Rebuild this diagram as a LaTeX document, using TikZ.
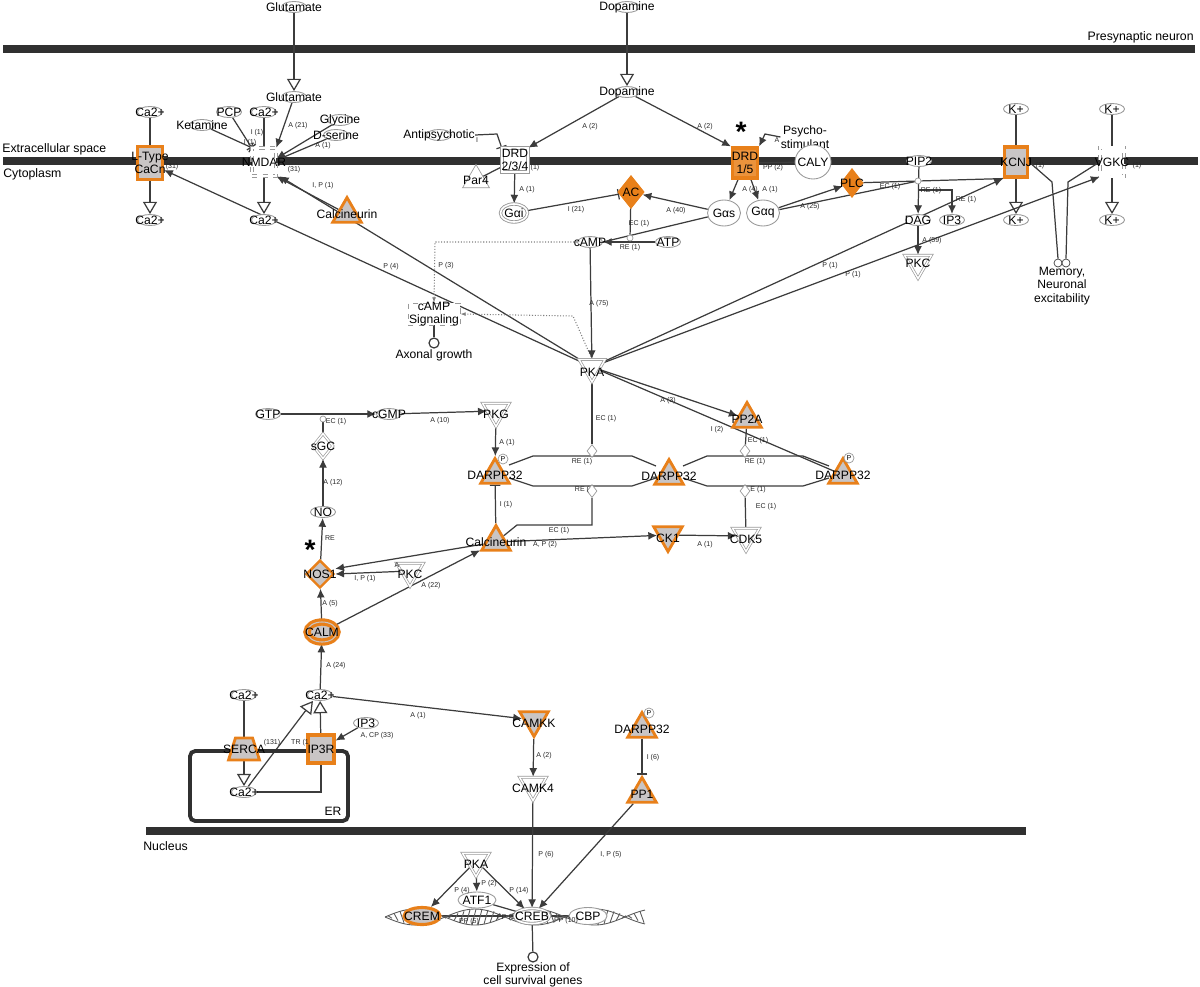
\documentclass[tikz,border=0pt]{standalone}
\usepackage{fontspec}
\setmainfont{Liberation Sans}
\usetikzlibrary{shapes.geometric, arrows.meta, calc}
\definecolor{orng}{HTML}{E8801A}
\definecolor{gfill}{HTML}{C9C5C5}
\definecolor{ln}{HTML}{3C3C3C}
\definecolor{mem}{HTML}{303030}
\definecolor{ol}{HTML}{9A9A9A}
\pgfdeclarelayer{bg}\pgfdeclarelayer{edges}\pgfsetlayers{bg,edges,main}
\tikzset{
 txt/.style={font=\fontsize{6.9}{7.6}\selectfont, align=center, inner sep=0pt},
 every label/.style={txt},
 lab/.style={font=\fontsize{4}{4.5}\selectfont, inner sep=0pt, text=black!85},
 memtxt/.style={font=\fontsize{7}{8}\selectfont, inner sep=0pt},
 chem/.style={ellipse, draw=ol, fill=white, line width=0.5pt, minimum width=0.5cm, minimum height=0.22cm, inner sep=0pt},
 bell/.style={ellipse, draw=ol, fill=white, line width=0.5pt, inner sep=0pt},
 dbell/.style={bell, double=white, double distance=0.9pt},
 oell/.style={ellipse, draw=orng, line width=1.8pt, fill=gfill, inner sep=0pt},
 osq/.style={rectangle, draw=orng, line width=1.8pt, fill=gfill, inner sep=0pt},
 wsq/.style={rectangle, draw=ol, fill=white, double=white, double distance=1.3pt, inner sep=0pt},
 otri/.style={regular polygon, regular polygon sides=3, draw=orng, line width=1.6pt, fill=gfill, minimum size=0.66cm, inner sep=0pt},
 oitri/.style={otri, shape border rotate=180},
 witri/.style={regular polygon, regular polygon sides=3, shape border rotate=180, draw=ol, fill=white, double=white, double distance=0.8pt, minimum size=0.62cm, inner sep=0pt},
 wtri/.style={regular polygon, regular polygon sides=3, draw=ol, fill=white, minimum size=0.62cm, inner sep=0pt},
 odia/.style={diamond, draw=orng, line width=1.4pt, fill=orng, inner sep=0pt},
 jc/.style={circle, draw=ol, fill=white, minimum size=0.12cm, inner sep=0pt},
 jd/.style={diamond, draw=ol, fill=white, minimum width=0.2cm, minimum height=0.26cm, inner sep=0pt},
 endc/.style={circle, draw=ln, fill=white, line width=0.7pt, minimum size=0.2cm, inner sep=0pt},
 pcirc/.style={circle, draw=ol, fill=white, font=\fontsize{4}{4}\selectfont, inner sep=0.3pt, minimum size=0.2cm},
 starm/.style={font=\fontsize{16}{16}\selectfont\bfseries, inner sep=0pt, text height=7pt, text depth=0pt},
 e/.style={draw=ln, line width=0.7pt},
 act/.style={e, -{Latex[length=5pt,width=4.5pt]}},
 opentip/.style={e, -{Triangle[fill=white, length=7pt, width=8pt]}},
 inh/.style={e, -{Bar[width=6pt]}},
 dott/.style={draw=gray, line width=0.6pt, densely dotted},
 dnal/.style={draw=gray!70!black, line width=0.5pt},
}
\begin{document}
\begin{tikzpicture}[x=0.02cm, y=-0.02cm]
\useasboundingbox (0,0) rectangle (1200,987);
% membranes
\begin{pgfonlayer}{bg}
\fill[mem] (3,45) rectangle (1195,53);
\fill[mem] (3,157) rectangle (1198,165);
\fill[mem] (146,827) rectangle (1026,835);
\end{pgfonlayer}
\node[memtxt, anchor=east] (tpre) at (1194,37) {Presynaptic neuron};
\node[memtxt, anchor=west] (textra) at (2,149) {Extracellular space};
\node[memtxt, anchor=west] (tcyto) at (3,174) {Cytoplasm};
\node[memtxt, anchor=west] (tnuc) at (143,846) {Nucleus};
% ER
\draw[line width=2.2pt, rounded corners=3pt, draw=mem] (190,751) rectangle (348,821);
\node[txt] (ert) at (333,811) {ER};
% ---------- top left
\node[chem, label=center:Glutamate] (glu1) at (294,7) {};
\node[chem, label=center:Glutamate] (glu2) at (294,97) {};
\node[chem, label=center:Ca2+] (ca1) at (150,112) {};
\node[osq, minimum width=0.5cm, minimum height=0.66cm, label={center:{L-Type\\CaCn}}] (ltype) at (150,163) {};
\node[chem, label=center:Ca2+] (ca2) at (150,220) {};
\node[chem, label=center:PCP] (pcp) at (229,112) {};
\node[chem, label=center:Ca2+] (ca3) at (264,112) {};
\node[chem, label=center:Ketamine] (ket) at (202,125) {};
\node[chem, label=center:Glycine] (gly) at (340,120) {};
\node[chem, label=center:D-serine] (dser) at (336,135) {};
\node[wsq, dashed, minimum width=0.48cm, minimum height=0.56cm, label=center:NMDAR] (nmdar) at (264,162) {};
\node[chem, label=center:Ca2+] (ca4) at (264,220) {};
\node[otri, label=center:Calcineurin] (calc1) at (347,214) {};
% ---------- dopamine
\node[chem, label=center:Dopamine] (dop1) at (627,7) {};
\node[chem, label=center:Dopamine] (dop2) at (627,92) {};
\node[chem, label={[name=antit]center:Antipsychotic}] (anti) at (439,135) {};
\node[wsq, minimum width=0.52cm, minimum height=0.48cm, label={center:{DRD\\2/3/4}}] (drd234) at (515,160) {};
\node[wtri, label=center:Par4] (par4) at (476,180) {};
\node[dbell, minimum width=0.54cm, minimum height=0.36cm, label=center:Gαi] (gai) at (514,213) {};
\node[odia, minimum width=0.5cm, minimum height=0.62cm, label=center:AC] (ac) at (631,192) {};
\node[bell, minimum width=0.66cm, minimum height=0.52cm, label=center:Gαs] (gas) at (724,213) {};
\node[bell, minimum width=0.66cm, minimum height=0.52cm, label=center:Gαq] (gaq) at (763,213) {};
\node[osq, fill=orng!85, minimum width=0.5cm, minimum height=0.6cm, label={center:{DRD\\1/5}}] (drd15) at (745,163) {};
\node[starm] (star1) at (741,135) {*};
\node[txt] (psy) at (805,137) {Psycho-\\stimulant};
\node[bell, minimum width=0.72cm, minimum height=0.68cm, label=center:CALY] (caly) at (813,162) {};
\node[chem, label=center:cAMP] (cam) at (590,242) {};
\node[chem, label=center:ATP] (atp) at (668,242) {};
\node[jc] (jac) at (630,238) {};
\node[odia, minimum width=0.42cm, minimum height=0.54cm, label=center:PLC] (plc) at (852,183) {};
\node[chem, label=center:PIP2] (pip2) at (919,161) {};
\node[jc] (jpip) at (918,181) {};
\coordinate (br) at (918,190);
\node[chem, label=center:DAG] (dag) at (918,220) {};
\node[chem, label=center:IP3] (ip3a) at (952,220) {};
\node[witri, label=center:PKC] (pkc1) at (918,263) {};
\node[osq, minimum width=0.46cm, minimum height=0.6cm, label=center:KCNJ] (kcnj) at (1016,162) {};
\node[chem, label=center:K+] (kp1) at (1016,109) {};
\node[chem, label=center:K+] (kp2) at (1016,220) {};
\node[wsq, dashed, minimum width=0.48cm, minimum height=0.58cm, label=center:VGKC] (vgkc) at (1112,162) {};
\node[chem, label=center:K+] (kp3) at (1112,109) {};
\node[chem, label=center:K+] (kp4) at (1112,220) {};
\node[circle, draw=ln, fill=white, minimum size=0.16cm, inner sep=0pt] (mc1) at (1058,263) {};
\node[circle, draw=ln, fill=white, minimum size=0.16cm, inner sep=0pt] (mc2) at (1066,263) {};
\node[txt] (memt) at (1062,286) {Memory,\\Neuronal\\excitability};
% ---------- middle
\node[rectangle, draw=ol, dashed, fill=white, minimum width=1.04cm, minimum height=0.44cm, inner sep=0pt, label={center:{cAMP\\Signaling}}] (csig) at (434,314) {};
\node[endc] (axc) at (434,343) {};
\node[txt] (axt) at (434,355) {Axonal growth};
\node[witri, minimum size=0.6cm, label={[yshift=-3pt]center:PKA}] (pka) at (592,367) {};
\node[otri, label=center:PP2A] (pp2a) at (747,419) {};
\node[witri, label={[yshift=-2pt]center:PKG}] (pkg) at (496,411) {};
\node[chem, label=center:GTP] (gtp) at (268,414) {};
\node[chem, label=center:cGMP] (cgmp) at (389,414) {};
\node[jc] (jgc) at (323,419) {};
\node[diamond, draw=ol, fill=white, double=white, double distance=0.8pt, minimum width=0.4cm, minimum height=0.5cm, inner sep=0pt, label=center:sGC] (sgc) at (323,446) {};
\node[chem, label=center:NO] (no) at (323,512) {};
\node[diamond, draw=orng, line width=1.4pt, fill=gfill, minimum width=0.56cm, minimum height=0.56cm, inner sep=0pt, label=center:NOS1] (nos1) at (320,574) {};
\node[starm] (star2) at (310,553) {*};
\node[oell, double=gfill, minimum width=0.6cm, minimum height=0.4cm, label=center:CALM] (calm) at (322,632) {};
\node[witri, label={[yshift=-2pt]center:PKC}] (pkc2) at (410,571) {};
\node[otri, label=center:Calcineurin] (calc2) at (496,542) {};
\node[oitri, label={[yshift=-2pt]center:CK1}] (ck1) at (668,535) {};
\node[witri, label={[yshift=-2pt]center:CDK5}] (cdk5) at (746,536) {};
\node[otri, label=center:DARPP32] (darp1) at (495,475) {};
\node[pcirc] (pc1) at (503,459) {P};
\node[otri, label=center:DARPP32] (darp2) at (669,476) {};
\node[otri, label=center:DARPP32] (darp3) at (843,475) {};
\node[pcirc] (pc3) at (849,458) {P};
\node[jd] (jd1) at (592,451) {};
\node[jd] (jd2) at (592,491) {};
\node[jd] (jd3) at (745,451) {};
\node[jd] (jd4) at (745,491) {};
% ---------- lower
\node[chem, label=center:Ca2+] (ca5) at (320,695) {};
\node[chem, label=center:Ca2+] (ca6) at (244,695) {};
\node[trapezium, trapezium stretches=true, trapezium left angle=68, trapezium right angle=68, draw=orng, line width=1.6pt, fill=gfill, minimum width=0.62cm, minimum height=0.44cm, inner sep=1pt, label=center:SERCA] (serca) at (244,749) {};
\node[chem, label=center:Ca2+] (ca7) at (244,792) {};
\node[osq, minimum width=0.52cm, minimum height=0.56cm, label=center:IP3R] (ip3r) at (321,749) {};
\node[chem, label=center:IP3] (ip3b) at (366,723) {};
\node[oitri, label={[yshift=-2pt]center:CAMKK}] (camkk) at (534,720) {};
\node[witri, label={[yshift=-2pt]center:CAMK4}] (camk4) at (533,785) {};
\node[otri, label=center:DARPP32] (darp4) at (642,729) {};
\node[pcirc] (pc4) at (649,713) {P};
\node[otri, label=center:PP1] (pp1) at (642,794) {};
% ---------- nucleus
\foreach \s in {1,-1}{
 \draw[dnal] plot[domain=385:645, samples=90, smooth] (\x,{917-\s*8*sin(3*(\x-385))});
}
\foreach \xx in {388,394,...,642}{
 \draw[dnal] (\xx,{917-8*sin(3*(\xx-385))}) -- (\xx+4,{917+8*sin(3*(\xx-385))});
}
\node[witri, label={[yshift=-2pt]center:PKA}] (pka2) at (476,861) {};
\node[bell, minimum width=0.76cm, minimum height=0.32cm, label=center:ATF1] (atf1) at (477,900) {};
\node[oell, minimum width=0.72cm, minimum height=0.34cm, label=center:CREM] (crem) at (422,916) {};
\node[dbell, minimum width=0.7cm, minimum height=0.3cm, label=center:CREB] (creb) at (532,916) {};
\node[bell, minimum width=0.76cm, minimum height=0.34cm, label=center:CBP] (cbp) at (588,916) {};
\node[endc] (exc) at (533,957) {};
\node[txt] (ext) at (533,975) {Expression of\\cell survival genes};
% ---------- edges
\begin{pgfonlayer}{edges}
\draw[e] (ca1) -- (ltype);
\draw[opentip] (ltype) -- (ca2);
\draw[e] (ca3) -- (nmdar);
\draw[opentip] (nmdar) -- (ca4);
\draw[opentip] (glu1) -- (glu2);
\draw[act] (glu2) -- (nmdar.north east);
\draw[inh] (ket) -- (nmdar.north west);
\draw[inh] (pcp) -- (nmdar.north west);
\draw[act] (gly) -- ([yshift=2pt]nmdar.east);
\draw[act] (dser) -- ([yshift=1pt]nmdar.east);
\draw[act] (calc1) -- (nmdar.south east);
\draw[act] (pka) -- ([xshift=2pt]nmdar.south east);
\draw[act] (pka) -- ([yshift=-4pt]ltype.east);
\draw[opentip] (dop1) -- (dop2);
\draw[act] (dop2) -- (drd234.north east);
\draw[act] (dop2) -- (drd15.north west);
\draw[inh] (antit.east) -- (497,134) -- (drd234.north west);
\draw[e] (drd234) -- (par4);
\draw[act] (drd234) -- (gai);
\draw[inh] (gai) -- (ac);
\draw[act] (gas) -- (ac);
\draw[act] (drd15) -- (gas);
\draw[act] (drd15) -- (gaq);
\draw[act] (psy.west) -- (765,134) -- (drd15.north east);
\draw[e] (drd15) -- (caly);
\draw[e] (ac) -- (jac);
\draw[act] (atp) -- (cam);
\draw[e] (gas) -- (cam.east);
\draw[act] (gaq) -- (plc);
\draw[e] (gaq) -- (jpip);
\draw[e] (plc) -- (jpip);
\draw[act] (pip2) -- (dag);
\draw[act] (br) -| (ip3a);
\draw[e] (jpip) -- (kcnj.south west);
\draw[act] (dag) -- (pkc1);
\draw[e] (kp1) -- (kcnj);
\draw[opentip] (kcnj) -- (kp2);
\draw[e] (kp3) -- (vgkc);
\draw[opentip] (vgkc) -- (kp4);
\draw[act] (pka) -- (kcnj.south west);
\draw[act] (pka) -- (vgkc.south west);
\draw[e] (kcnj.east) -- (1052,182) -- (mc1.north);
\draw[e] (vgkc.west) -- (1068,182) -- (mc2.north);
\draw[dott, -{Latex[length=3pt]}] (cam.west) -- (435,242) -- (csig.north);
\draw[dott, -{Latex[length=3pt]}] (pka.north) -- (573,316) -- (csig.east);
\draw[e] (csig) -- (axc);
\draw[act] (cam) -- (pka);
\draw[act] (pka) -- (pp2a);
\draw[e] (darp3) -- (pka);
\draw[e] (pka) -- (jd1);
\draw[e] (pp2a) -- (jd3);
\draw[act] (gtp) -- (cgmp);
\draw[act] (cgmp) -- (pkg);
\draw[e] (sgc) -- (jgc);
\draw[act] (no) -- (sgc);
\draw[act] (nos1) -- (no);
\draw[act] (calm) -- (nos1);
\draw[act] (pkc2) -- (nos1.east);
\draw[act] (calc2) -- ([yshift=3pt]nos1.east);
\draw[act] (calm) -- (calc2);
\draw[act] (calc2) -- (ck1);
\draw[act] (ck1) -- (cdk5);
\draw[act] (pkg) -- (darp1);
\draw[inh] (calc2) -- (darp1);
\draw[e] (calc2) -- (517,525) -- (592,525) -- (jd2);
\draw[e] (cdk5) -- (jd4);
\draw[e] (darp1) ++(14,-10) -- (533,456) -- (632,456) -- (656,466);
\draw[e] (darp1) ++(14,3) -- (533,486) -- (632,486) -- (656,478);
\draw[e] (darp2) ++(14,-10) -- (707,456) -- (803,456) -- (829,466);
\draw[e] (darp2) ++(14,2) -- (707,486) -- (803,486) -- (829,478);
\draw[act] (ca5) -- (calm);
\draw[act] (ca5) -- (camkk);
\draw[e] (ca6) -- (serca);
\draw[opentip] (serca) -- (ca7);
\draw[act] (ip3b) -- (ip3r);
\draw[opentip] (ip3r) -- (ca5);
\draw[e] (ip3r.south) |- (ca7.east);
\draw[opentip] (ca7) -- ([xshift=-4pt]ca5.south);
\draw[act] (camkk) -- (camk4);
\draw[inh] (darp4) -- (pp1);
\draw[act] (camk4) -- (creb);
\draw[act] (pp1) -- (creb);
\draw[act] (pka2) -- (crem);
\draw[act] (pka2) -- (atf1);
\draw[act] (pka2) -- (creb);
\draw[e] (crem) -- (creb);
\draw[e] (atf1) -- (creb);
\draw[e] (creb) -- (cbp);
\draw[e] (creb) -- (exc);
\end{pgfonlayer}
% ---------- edge labels
\node[lab] (l1) at (298,126) {A (21)};
\node[lab] (l2) at (257,133) {I (1)};
\node[lab] (l3) at (250,143) {I (1)};
\node[lab] (l4) at (323,146) {A (1)};
\node[lab] (l5) at (172,167) {(31)};
\node[lab] (l6) at (294,170) {(31)};
\node[lab] (l7) at (323,186) {I, P (1)};
\node[lab] (l8) at (391,267) {P (4)};
\node[lab] (l9) at (446,266) {P (3)};
\node[lab] (l10) at (590,127) {A (2)};
\node[lab] (l11) at (705,127) {A (2)};
\node[lab] (l12) at (477,140) {I};
\node[lab] (l13) at (535,168) {(1)};
\node[lab] (l14) at (527,190) {A (1)};
\node[lab] (l15) at (576,210) {I (21)};
\node[lab] (l16) at (676,211) {A (40)};
\node[lab] (l17) at (639,224) {EC (1)};
\node[lab] (l18) at (630,248) {RE (1)};
\node[lab] (l19) at (750,190) {A (4)};
\node[lab] (l20) at (770,190) {A (1)};
\node[lab] (l21) at (777,140) {A};
\node[lab] (l22) at (773,168) {PP (2)};
\node[lab] (l23) at (810,207) {A (25)};
\node[lab] (l24) at (890,187) {EC (1)};
\node[lab] (l25) at (931,191) {RE (1)};
\node[lab] (l26) at (966,200) {RE (1)};
\node[lab] (l27) at (932,241) {A (59)};
\node[lab] (l28) at (1040,166) {(1)};
\node[lab] (l29) at (1137,166) {(1)};
\node[lab] (l30) at (830,266) {P (1)};
\node[lab] (l31) at (853,275) {P (1)};
\node[lab] (l32) at (599,304) {A (75)};
\node[lab] (l33) at (668,401) {A (3)};
\node[lab] (l34) at (717,430) {I (2)};
\node[lab] (l35) at (606,419) {EC (1)};
\node[lab] (l36) at (758,441) {EC (1)};
\node[lab] (l37) at (440,421) {A (10)};
\node[lab] (l38) at (507,443) {A (1)};
\node[lab] (l39) at (336,422) {EC (1)};
\node[lab] (l40) at (333,483) {A (12)};
\node[lab] (l41) at (330,538) {RE};
\node[lab] (l42) at (330,604) {A (5)};
\node[lab] (l43) at (365,579) {I, P (1)};
\node[lab] (l44) at (397,565) {A};
\node[lab] (l45) at (431,586) {A (22)};
\node[lab] (l46) at (582,462) {RE (1)};
\node[lab] (l47) at (755,462) {RE (1)};
\node[lab] (l48) at (582,490) {RE (};
\node[lab] (l49) at (758,490) {E (1)};
\node[lab] (l50) at (559,531) {EC (1)};
\node[lab] (l51) at (506,505) {I (1)};
\node[lab] (l52) at (545,545) {A, P (2)};
\node[lab] (l53) at (705,545) {A (1)};
\node[lab] (l54) at (766,507) {EC (1)};
\node[lab] (l55) at (336,666) {A (24)};
\node[lab] (l56) at (418,716) {A (1)};
\node[lab] (l57) at (272,743) {(131)};
\node[lab] (l58) at (300,743) {TR (1};
\node[lab] (l59) at (377,736) {A, CP (33)};
\node[lab] (l60) at (544,756) {A (2)};
\node[lab] (l61) at (653,758) {I (6)};
\node[lab] (l62) at (546,855) {P (6)};
\node[lab] (l63) at (611,855) {I, P (5)};
\node[lab] (l64) at (462,891) {P (4)};
\node[lab] (l65) at (489,884) {P (2)};
\node[lab] (l66) at (519,891) {P (14)};
\node[lab] (l67) at (469,922) {PP (5)};
\node[lab] (l68) at (506,918) {PP (1};
\node[lab] (l69) at (566,921) {PP (10)};
\end{tikzpicture}
\end{document}
